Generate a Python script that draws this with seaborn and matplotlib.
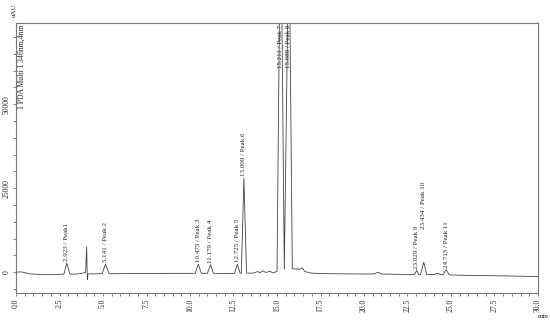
import numpy as np
import seaborn as sns
import matplotlib.pyplot as plt
from matplotlib.ticker import MultipleLocator, FormatStrFormatter

# chromatogram trace, vertices (min, uAU)
trace_time = [
    0.0, 0.3, 0.8, 1.5, 2.5, 2.75, 2.923, 3.1, 3.5, 3.8, 4.0, 4.06, 4.1, 4.14,
    4.4, 4.95, 5.141, 5.35, 7.0, 9.0, 10.3, 10.475, 10.65, 11.0, 11.179, 11.35,
    12.55, 12.725, 12.88, 12.95, 13.099, 13.25, 13.6, 13.9, 14.0, 14.2, 14.35,
    14.6, 14.75, 15.0, 15.211, 15.42, 15.688, 15.88, 16.3, 16.45, 16.6, 17.0,
    18.0, 20.0, 20.6, 20.8, 21.0, 22.0, 22.9, 23.029, 23.15, 23.25, 23.434,
    23.6, 24.0, 24.2, 24.4, 24.55, 24.715, 24.9, 25.5, 26.5, 28.0, 30.0,
]
trace_signal = [
    0, 100, -500, -700, -650, -600, 2700, -600, -550, -300, -100, 7500, -2200, -500,
    -500, -450, 2400, -450, -400, -350, -350, 2400, -350, -350, 2200, -350,
    -400, 2400, -300, -300, 28000, -300, -300, 200, -200, 400, -100,
    300, -200, 200, 115000, 900, 105000, 1000, 900, 1300, 200, -300,
    -450, -550, -500, 0, -550, -650, -700, 500, -700, -700, 3000,
    -700, -750, -300, -700, -700, 800, -800, -900, -1000, -1100, -1300,
]

# integrated peaks
peak_times = [2.923, 5.141, 10.475, 11.179, 12.725, 13.099, 15.211, 15.688,
              23.029, 23.434, 24.715]
peak_names = ["Peak1", "Peak 2", "Peak 3", "Peak 4", "Peak 5", "Peak 6",
              "Peak 7", "Peak 8", "Peak 9", "Peak 10", "Peak 11"]

YMIN, YMAX = -6200, 74200

sns.set_theme(style="ticks")
plt.rcParams["font.family"] = ["Liberation Serif", "DejaVu Serif"]

fig = plt.figure(figsize=(5.5, 3.28), dpi=100)
ax = fig.add_axes([16 / 550, 1 - 293 / 328, 522 / 550, 270 / 328])

sns.lineplot(x=trace_time, y=trace_signal, ax=ax, sort=False, estimator=None,
             color="#444444", linewidth=0.6)

ax.set_xlim(0, 30)
ax.set_ylim(YMIN, YMAX)
ax.set_xlabel("")
ax.set_ylabel("")

ax.xaxis.set_major_locator(MultipleLocator(2.5))
ax.xaxis.set_minor_locator(MultipleLocator(0.5))
ax.xaxis.set_major_formatter(FormatStrFormatter("%.1f"))
ax.yaxis.set_major_locator(MultipleLocator(25000))
ax.yaxis.set_minor_locator(MultipleLocator(5000))
ax.tick_params(axis="both", which="both", length=2.5, width=0.6,
               color="#666666", labelsize=5.5, pad=1.5)
ax.tick_params(axis="x", labelrotation=90)
for lab in ax.get_yticklabels():
    lab.set_rotation(90)
    lab.set_va("center")
for side in ["left", "right", "top", "bottom"]:
    ax.spines[side].set_visible(True)
    ax.spines[side].set_color("#777777")
    ax.spines[side].set_linewidth(0.8)

# peak labels
for t, name in zip(peak_times, peak_names):
    h = np.interp(t, trace_time, trace_signal)
    text = f"{t:.3f} / {name}"
    if h > YMAX:
        ax.text(t, YMAX - 600, text, rotation=90, ha="center", va="top",
                fontsize=5, color="#222222")
    else:
        y = h + 500
        if name == "Peak 10":
            y = 13000
        ax.text(t, y, text, rotation=90, ha="center", va="bottom",
                fontsize=5, color="#222222")

ax.text(0.004, 0.995, "1 PDA Multi 1 346nm,4nm", transform=ax.transAxes,
        rotation=90, ha="left", va="top", fontsize=5.5, color="#222222")
fig.text(14 / 550, 1 - 10 / 328, "uAU", rotation=90, ha="center", va="center",
         fontsize=5, color="#222222")
fig.text(543 / 550, 1 - 316 / 328, "min", ha="center", va="center",
         fontsize=5, color="#222222")

fig.savefig("out.png", dpi=100)
